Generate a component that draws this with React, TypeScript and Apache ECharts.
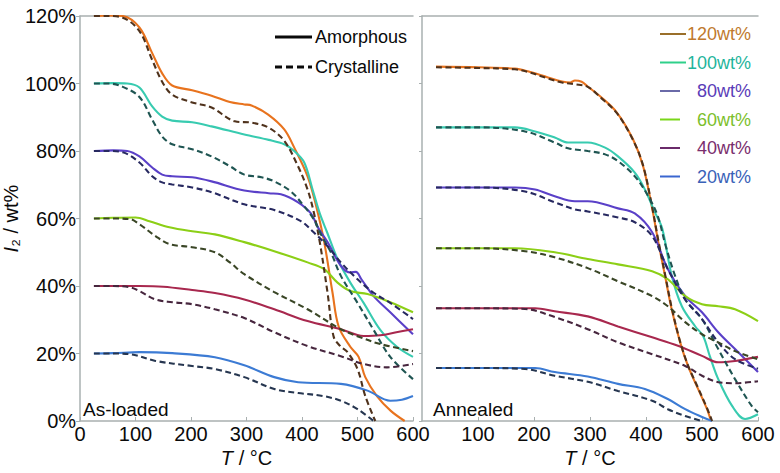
import React, { useEffect, useRef } from "react";
import * as echarts from "echarts";

type P = [number, number][];

// ---------- As-loaded panel ----------
const asAm120: P = [[25,120],[50,120.2],[77,120],[107,116.6],[130,109],[148,103],[166,99.4],[202,98],[237,96.4],[270,94.5],[296,93.8],[309,93.5],[339,90.8],[368,86.4],[386,81],[410,72.5],[425,64],[440,53],[455,38],[466,28],[487,22],[502,19],[514,13],[535,7.4],[560,3],[585,0]];
const asCr120: P = [[25,120],[50,120],[77,119.5],[107,115.5],[130,107],[148,100.5],[166,96.7],[202,94.4],[237,92.9],[279,88.8],[309,88.4],[339,87],[368,83],[393,75.4],[410,68.6],[421,62],[432,53],[446,38],[457,25],[470,22],[482,20.4],[500,15.4],[514,7.4],[532,0]];
const asAm100: P = [[25,100],[60,100.1],[85,100],[107,98.8],[130,93.2],[148,90.2],[166,89],[202,88.5],[237,87.3],[296,84.9],[340,83.3],[368,82],[386,80],[404,76.6],[419,68.6],[432,61.5],[445,56],[464,48],[487,41],[511,35],[541,27],[571,22],[600,19]];
const asCr100: P = [[25,100],[50,100],[77,99],[107,96],[130,89.3],[148,84.3],[166,82],[202,80.5],[237,78.4],[270,75.5],[296,73],[327,72.2],[350,71],[380,68],[404,63.6],[421,59.8],[435,55],[452,50],[470,43],[500,35],[529,27],[559,19],[600,12.4]];
const asAm80: P = [[25,80],[60,80.2],[85,80],[107,78.4],[130,75.1],[148,73],[166,72.5],[202,72.2],[237,71],[296,68.3],[340,67.5],[362,67.2],[393,64.8],[416,61.5],[430,57],[446,53],[470,46],[487,44],[497,44.2],[507,42],[529,37],[559,32.2],[600,25.7]];
const asCr80: P = [[25,80],[50,80],[77,79.6],[107,76.6],[130,72.5],[148,70.7],[166,70.1],[202,69.2],[237,67.8],[296,64.2],[350,62.5],[398,59.2],[421,55.9],[446,51.8],[470,47],[500,42],[529,38],[559,35],[600,30.2]];
const asAm60: P = [[25,60],[60,60.2],[100,60.3],[125,59.2],[161,57.4],[202,56.2],[243,55.3],[296,53],[350,50.3],[410,47],[440,45],[464,41],[487,38.5],[518,37.6],[559,35.2],[600,32.2]];
const asCr60: P = [[25,60],[60,60],[90,59.8],[107,58.3],[136,54.8],[161,52.4],[202,51.5],[243,50],[270,47],[296,43.5],[350,38.2],[410,33.1],[470,27.2],[505,24.8],[541,22.8],[600,20.7]];
const asAm40: P = [[25,40],[60,40],[107,40],[150,39.8],[202,38.8],[243,37.9],[296,36],[350,33.1],[410,29.6],[470,27.2],[511,25.2],[541,25.4],[570,26.3],[600,27.2]];
const asCr40: P = [[25,40],[60,40],[90,39.6],[107,38.5],[136,36],[166,35.2],[202,34.6],[243,33.1],[296,30.5],[350,26.3],[410,22.2],[470,19.2],[511,16.9],[553,15.9],[600,16.9]];
const asAm20: P = [[25,20],[60,20.1],[107,20.4],[166,20.1],[243,18.9],[296,16.5],[350,13],[393,11.5],[470,11],[518,9],[559,6],[580,6.3],[600,7.4]];
const asCr20: P = [[25,20],[60,20],[90,19.8],[136,17.8],[202,16.3],[243,15.4],[296,13],[350,9.5],[393,8.3],[438,7.4],[470,6],[500,3.5],[529,0]];

// ---------- Annealed panel ----------
const anAm120: P = [[25,105],[100,104.8],[166,104.4],[189,103.6],[225,101.8],[250,100.6],[265,100.3],[273,100.9],[285,100.5],[296,99.1],[318,96.2],[348,91.4],[377,83.4],[395,75.4],[411,63],[422,53],[434,43],[446,33],[461,23.3],[475,16.3],[493,9.5],[509,3.5],[516,0]];
const anCr120: P = [[25,104.8],[100,104.6],[166,104.2],[189,103.4],[225,101.5],[250,100.3],[273,99.8],[296,99],[318,96],[348,91.2],[377,83.2],[395,75.6],[411,63.4],[422,53.5],[434,43.5],[446,33.5],[461,23.5],[475,16.5],[493,9.8],[509,3.8],[518,0]];
const anAm100: P = [[25,87],[100,87],[166,87],[202,85.8],[237,84],[261,82.5],[296,82.5],[327,81],[350,78.4],[380,73.6],[398,68.6],[416,61.8],[429,57],[446,43],[464,34],[488,28],[502,25.2],[514,19.2],[529,12.4],[554,4.4],[577,0.6],[600,2]];
const anCr100: P = [[25,87],[100,87],[184,85.8],[237,82.5],[261,80.8],[296,80],[327,79],[350,77],[380,72.5],[404,66.6],[421,60.7],[435,52],[452,43],[470,36],[500,30.2],[529,21.3],[559,12.4],[589,4.4],[600,2.6]];
const anAm80: P = [[25,69.2],[100,69.2],[166,69.2],[202,68.6],[237,66.6],[273,65.1],[296,65.1],[350,63],[380,61.5],[411,55.9],[439,45],[470,37],[500,32.2],[529,26.3],[559,21.3],[600,14.5]];
const anCr80: P = [[25,69.2],[100,69.2],[184,68],[237,64.8],[273,62.7],[296,62.1],[350,60.3],[380,58.9],[411,54.8],[439,45],[470,36],[500,30.2],[529,23.3],[559,18.3],[600,15.5]];
const anAm60: P = [[25,51.2],[100,51.2],[166,51.2],[237,50],[296,48],[350,46.4],[411,44.4],[439,42],[470,37],[500,34.6],[529,34],[559,33.1],[600,29.6]];
const anCr60: P = [[25,51.2],[100,51.2],[184,50.3],[237,48.5],[296,45.3],[350,41.4],[411,37],[439,34],[470,29.3],[500,25.7],[529,23.3],[559,20.7],[600,18.3]];
const anAm40: P = [[25,33.4],[100,33.4],[202,33.4],[237,32.5],[296,31],[350,28],[411,24.8],[457,22.3],[500,19.3],[529,17.4],[559,17.8],[600,19]];
const anCr40: P = [[25,33.4],[100,33.4],[184,33.2],[237,30.8],[296,27.2],[350,23.3],[411,19.8],[470,16.3],[500,13.4],[529,11.5],[559,11.2],[600,11.8]];
const anAm20: P = [[25,15.7],[100,15.7],[202,15.7],[237,14.5],[296,13.2],[350,11],[398,9.5],[439,6.5],[470,3.5],[500,1.2],[518,0]];
const anCr20: P = [[25,15.7],[100,15.7],[184,15.4],[237,13.4],[296,11.6],[350,8.9],[411,6],[439,3.5],[470,1.5],[500,0]];

const loadings = ["120wt%", "100wt%", "80wt%", "60wt%", "40wt%", "20wt%"];
const solidColors = ["#e8731e", "#38cbb0", "#5a40c8", "#8ccf16", "#a8284e", "#3c7bd4"];
const dashColors = ["#4f321c", "#1f5552", "#272960", "#3a4626", "#47263e", "#263650"];
const legendTextColors = ["#c07a2e", "#1fb59c", "#5a3cb8", "#7cc02c", "#7a2e6e", "#3a62b8"];
const legendLineColors = ["#9a6f2a", "#2fd08a", "#6a6aa8", "#7ad61a", "#6a2a6a", "#3a66d0"];

const asAm = [asAm120, asAm100, asAm80, asAm60, asAm40, asAm20];
const asCr = [asCr120, asCr100, asCr80, asCr60, asCr40, asCr20];
const anAm = [anAm120, anAm100, anAm80, anAm60, anAm40, anAm20];
const anCr = [anCr120, anCr100, anCr80, anCr60, anCr40, anCr20];

const xTicksMax = 600;
const yMax = 120;

const FONT = "'Liberation Sans', Arial, sans-serif";
const AXIS_GRAY = "#a9b0b0";
const INK = "#0a0a0a";

export default function App() {
  const ref = useRef<HTMLDivElement>(null);
  useEffect(() => {
    document.body.style.margin = "0";
    if (!ref.current) return;
    const chart = echarts.init(ref.current, undefined, { renderer: "svg" });

    const series: any[] = [];
    const add = (data: P, name: string, color: string, dashed: boolean, idx: number) => {
      series.push({
        type: "line",
        name,
        data,
        xAxisIndex: idx,
        yAxisIndex: idx,
        smooth: 0.35,
        showSymbol: false,
        symbol: "none",
        z: dashed ? 3 : 2,
        lineStyle: { color, width: 2.1, type: dashed ? [6, 3.5] : "solid" },
      });
    };
    for (let i = 0; i < 6; i++) {
      add(asAm[i], loadings[i] + " amorphous", solidColors[i], false, 0);
      add(asCr[i], loadings[i] + " crystalline", dashColors[i], true, 0);
      add(anAm[i], loadings[i] + " amorphous annealed", solidColors[i], false, 1);
      add(anCr[i], loadings[i] + " crystalline annealed", dashColors[i], true, 1);
    }

    const xBase = (grid: number, showMin: boolean) => ({
      type: "value",
      gridIndex: grid,
      min: 0,
      max: xTicksMax,
      interval: 100,
      position: "bottom",
      axisLine: { show: true, lineStyle: { color: AXIS_GRAY, width: 1.5 } },
      axisTick: { show: true, inside: true, length: 4, lineStyle: { color: AXIS_GRAY } },
      splitLine: { show: false },
      axisLabel: { show: true, showMinLabel: showMin, color: INK, fontSize: 20, fontFamily: FONT, margin: 3 },
      name: "{it|T} / °C",
      nameLocation: "middle",
      nameGap: 27,
      nameMoveOverlap: false,
      nameTextStyle: {
        color: INK,
        fontSize: 20,
        fontFamily: FONT,
        rich: { it: { fontStyle: "italic", fontSize: 20, fontFamily: FONT, color: INK } },
      },
    });
    const xTop = (grid: number) => ({
      type: "value",
      gridIndex: grid,
      min: 0,
      max: xTicksMax,
      position: "top",
      axisLine: { show: true, onZero: false, lineStyle: { color: AXIS_GRAY, width: 1.5 } },
      axisTick: { show: false },
      axisLabel: { show: false },
      splitLine: { show: false },
    });

    const option: any = {
      animation: false,
      backgroundColor: "#ffffff",
      grid: [
        { left: 77, top: 16, width: 336, height: 406 },
        { left: 422, top: 16, width: 336, height: 406 },
      ],
      xAxis: [xBase(0, true), xBase(1, false), xTop(0), xTop(1)],
      yAxis: [
        {
          type: "value",
          gridIndex: 0,
          min: 0,
          max: yMax,
          interval: 20,
          axisLine: { show: true, lineStyle: { color: AXIS_GRAY, width: 1.5 } },
          axisTick: { show: true, length: 4, lineStyle: { color: AXIS_GRAY } },
          splitLine: { show: false },
          axisLabel: { color: INK, fontSize: 20, fontFamily: FONT, margin: 4, formatter: "{value}%" },
          name: "{it|I}{n|₂ / wt%}",
          nameLocation: "middle",
          nameGap: 48,
          nameTextStyle: {
            color: INK,
            fontSize: 20,
            fontFamily: FONT,
            rich: {
              it: { fontStyle: "italic", fontSize: 20, fontFamily: FONT, color: INK },
              n: { fontSize: 20, fontFamily: FONT, color: INK },
            },
          },
        },
        {
          type: "value",
          gridIndex: 1,
          min: 0,
          max: yMax,
          interval: 20,
          axisLine: { show: true, lineStyle: { color: AXIS_GRAY, width: 1.5 } },
          axisTick: { show: true, length: 3, lineStyle: { color: AXIS_GRAY } },
          splitLine: { show: false },
          axisLabel: { show: false },
        },
      ],
      series,
      graphic: [
        // Amorphous / Crystalline key
        { type: "line", shape: { x1: 275, y1: 37, x2: 312, y2: 37 }, style: { stroke: INK, lineWidth: 3 } },
        { type: "line", shape: { x1: 275, y1: 67, x2: 312, y2: 67 }, style: { stroke: INK, lineWidth: 3, lineDash: [7, 4] } },
        { type: "text", x: 315, y: 37, style: { text: "Amorphous", font: `18px ${FONT}`, fill: INK, align: "left", verticalAlign: "middle" } },
        { type: "text", x: 315, y: 67, style: { text: "Crystalline", font: `18px ${FONT}`, fill: INK, align: "left", verticalAlign: "middle" } },
        // panel labels
        { type: "text", x: 83, y: 409, style: { text: "As-loaded", font: `19px ${FONT}`, fill: INK, align: "left", verticalAlign: "middle" } },
        { type: "text", x: 433, y: 409, style: { text: "Annealed", font: `19px ${FONT}`, fill: INK, align: "left", verticalAlign: "middle" } },
        // loading key
        ...loadings.flatMap((t, i) => {
          const y = 34 + i * 28.5;
          const x2 = i < 2 ? 686 : 680;
          return [
            { type: "line", shape: { x1: 660, y1: y, x2, y2: y }, style: { stroke: legendLineColors[i], lineWidth: 2 } },
            { type: "text", x: 751, y, style: { text: t, font: `18px ${FONT}`, fill: legendTextColors[i], align: "right", verticalAlign: "middle" } },
          ];
        }),
      ],
    };
    chart.setOption(option);
    return () => chart.dispose();
  }, []);
  return <div ref={ref} style={{ width: 780, height: 473 }} />;
}
